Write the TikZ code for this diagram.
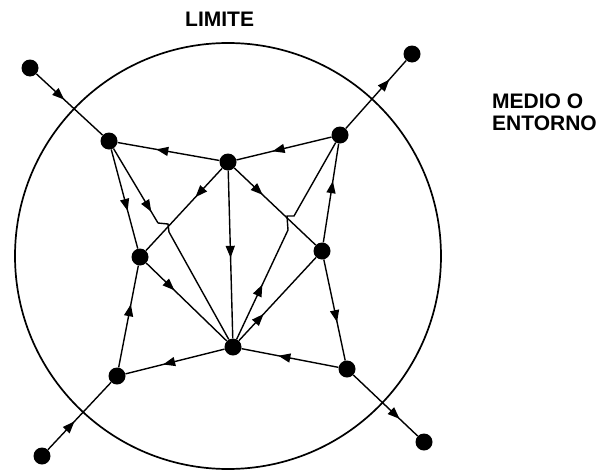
\documentclass[tikz,border=0pt]{standalone}
\usepackage{fontspec}
\setmainfont{Liberation Sans}
\usetikzlibrary{arrows.meta,decorations.markings}
\tikzset{
  dot/.style={circle,fill=black,inner sep=0pt,minimum size=17pt},
  edge/.style={line width=1.4pt},
  arr/.style={postaction={decorate,decoration={markings,
     mark=at position #1 with {\arrow{Triangle[length=12pt,width=9pt]}}}}},
  lbl/.style={font=\bfseries\fontsize{21}{22}\selectfont,align=left,inner sep=0pt}
}
\begin{document}
\begin{tikzpicture}[x=1pt,y=-1pt]
\useasboundingbox (0,0) rectangle (597,474);
% boundary
\draw[line width=1.7pt] (228,256) circle (213);
% nodes
\node[dot] (o1) at (30,68) {};
\node[dot] (o2) at (412,54) {};
\node[dot] (o3) at (42,456) {};
\node[dot] (o4) at (424,442) {};
\node[dot] (A) at (109,141) {};
\node[dot] (T) at (228,162) {};
\node[dot] (B) at (340,135) {};
\node[dot] (L) at (140,257) {};
\node[dot] (R) at (322,251) {};
\node[dot] (C) at (233,347) {};
\node[dot] (D) at (117,376) {};
\node[dot] (E) at (347,369) {};
\coordinate (lj1) at (158,223);
\coordinate (lj2) at (168,224);
\coordinate (lj3) at (169,232);
\coordinate (rj1) at (294,216);
\coordinate (rj2) at (287,216);
\coordinate (rj3) at (288,230);
% labels
\node[lbl,anchor=south west] (lim) at (185,26.5) {LIMITE};
\node[lbl,anchor=north west] (med) at (492,94) {MEDIO O\\ENTORNO};
% edges
\draw[edge,arr=0.42] (o1) -- (A);
\draw[edge,arr=0.72] (B) -- (o2);
\draw[edge,arr=0.42] (o3) -- (D);
\draw[edge,arr=0.72] (E) -- (o4);
\draw[edge,arr=0.62] (T) -- (A);
\draw[edge,arr=0.62] (B) -- (T);
\draw[edge,arr=0.62] (A) -- (L);
\draw[edge,arr=0.85] (A) -- (lj1);
\draw[edge] (lj1) -- (lj2) -- (lj3) -- (C);
\draw[edge,arr=0.35] (T) -- (L);
\draw[edge,arr=0.35] (T) -- (R);
\draw[edge,arr=0.35] (L) -- (C);
\draw[edge,arr=0.52] (T) -- (C);
\draw[edge,arr=0.5] (C) -- (rj3);
\draw[edge] (rj3) -- (rj2) -- (rj1) -- (B);
\draw[edge,arr=0.32] (C) -- (R);
\draw[edge,arr=0.62] (D) -- (L);
\draw[edge,arr=0.62] (C) -- (D);
\draw[edge,arr=0.62] (E) -- (C);
\draw[edge,arr=0.62] (R) -- (E);
\draw[edge,arr=0.62] (R) -- (B);
\end{tikzpicture}
\end{document}
